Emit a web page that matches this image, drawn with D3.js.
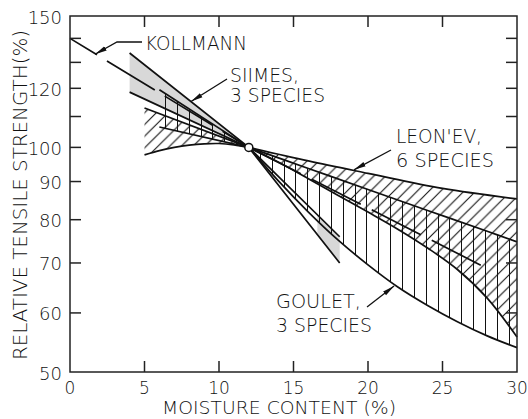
<!DOCTYPE html>
<html><head><meta charset="utf-8">
<script src="https://cdn.jsdelivr.net/npm/d3@7"></script>
<style>
body{margin:0;background:#fff}
svg{display:block}
text{font-family:"DejaVu Sans",sans-serif;font-weight:200;fill:#111}
</style>
</head><body><svg id="c" width="528" height="419"></svg>
<script>
// ---- data ----
const xTicks = [0,5,10,15,20,25,30];
const yTickLabels = [50,60,70,80,90,100,120,150];
const yMinorTicks = [110,130,140];
const refPoint = [12,100];

const kollmannLeft  = [[0,140],[12,100]];
const kollmannRight = [[12,100],[27.7,69.3]];

const siimesA = [[4,133.8],[12,100],[18.1,70.0]];
const siimesB = [[4,118.6],[12,100],[18.1,75.9]];

const gouletLeftTop    = [[6.0,119.5],[12,100]];
const gouletLeftBottom = [[6.0,106.5],[12,100]];
const gouletRightTop   = [[12,100],[16,93.7],[20,87.8],[24,82.3],[28,77.2],[30,74.7]];
const gouletRightBottom= [[12,100],[14,90.1],[16,81.9],[18,75.1],[20,69.6],[22,65.0],[24,61.4],[26,58.4],[28,55.9],[30,53.9]];

const leonevLeftTop    = [[5,112.9],[12,100]];
const leonevLeftBottom = [[5,97.7],[6,99.0],[7,100.0],[8,100.7],[9,101.1],[10,101.2],[11,100.8],[12,100]];
const leonevRightTop   = [[12,100],[16,95.9],[20,92.3],[25,88.1],[30,85.3]];
const leonevRightBottom= [[12,100],[14,95.5],[16,90.8],[18,86.2],[20,81.9],[22,77.7],[24,73.3],[26,68.6],[28,62.8],[30,55.7]];

// ---- setup ----
const svg = d3.select('#c');
const x = d3.scaleLinear().domain([0,30]).range([70,517]);
const y = d3.scaleLog().domain([50,150]).range([372,16]);

const lineStraight = d3.line().x(d=>x(d[0])).y(d=>y(d[1]));
const lineCurve = d3.line().x(d=>x(d[0])).y(d=>y(d[1])).curve(d3.curveCatmullRom.alpha(0.5));

const defs = svg.append('defs');
// diagonal hatch "/"
const dw = 11.7;
const dp = defs.append('pattern').attr('id','dh').attr('patternUnits','userSpaceOnUse')
  .attr('width',dw).attr('height',dw);
dp.append('path').attr('d',`M0,${dw}L${dw},0M-2,2L2,-2M${dw-2},${dw+2}L${dw+2},${dw-2}`)
  .attr('stroke','#111').attr('stroke-width',1.1);
// clip for the visible part of the right-side gray wedge
defs.append('clipPath').attr('id','grayR').append('rect')
  .attr('x',x(16.6)).attr('y',0).attr('width',x(18.1)-x(16.6)+1).attr('height',419);

function regionPath(top, bottom, gen){
  const t = gen(top);
  const b = gen(bottom.slice().reverse());
  return t + 'L' + b.slice(1) + 'Z';
}

// gray Siimes wedges
svg.append('path').attr('d', regionPath(siimesA.slice(0,2), siimesB.slice(0,2), lineStraight))
  .attr('fill','#d8d8d8');
svg.append('path').attr('d', regionPath(siimesB.slice(1), siimesA.slice(1), lineStraight))
  .attr('fill','#d8d8d8').attr('clip-path','url(#grayR)');

// vertical hatching (Goulet) as clipped vertical rules
const hatchXs = d3.range(6.38, 30, 0.795);
function vHatch(id, path){
  defs.append('clipPath').attr('id',id).append('path').attr('d',path);
  const gg = svg.append('g').attr('clip-path',`url(#${id})`);
  hatchXs.forEach(v=>{
    const px = Math.round(x(v))+0.5;
    gg.append('line').attr('x1',px).attr('x2',px).attr('y1',y.range()[1]).attr('y2',y.range()[0])
      .attr('stroke','#111').attr('stroke-width',1);
  });
}
vHatch('gl', regionPath(gouletLeftTop, gouletLeftBottom, lineStraight));
vHatch('gr', regionPath(gouletRightTop, gouletRightBottom, lineCurve));

// diagonal hatching (Leon'ev)
svg.append('path').attr('d', regionPath(leonevLeftTop, leonevLeftBottom, lineCurve)).attr('fill','url(#dh)');
svg.append('path').attr('d', regionPath(leonevRightTop, leonevRightBottom, lineCurve)).attr('fill','url(#dh)');

// lines
const strokeW = 1.7;
const curves = [
  [siimesA, lineStraight],[siimesB, lineStraight],
  [gouletLeftTop, lineStraight],[gouletLeftBottom, lineStraight],
  [gouletRightTop, lineCurve],[gouletRightBottom, lineCurve],
  [leonevLeftTop, lineStraight],[leonevLeftBottom, lineCurve],
  [leonevRightTop, lineCurve],[leonevRightBottom, lineCurve]
];
curves.forEach(([d,g])=>{
  svg.append('path').attr('d', g(d)).attr('fill','none').attr('stroke','#111').attr('stroke-width',strokeW);
});
svg.append('path').attr('d', lineStraight(kollmannLeft)).attr('fill','none').attr('stroke','#111')
  .attr('stroke-width',strokeW).attr('stroke-dasharray','56,11.7').attr('stroke-dashoffset',24.4);
svg.append('path').attr('d', lineStraight(kollmannRight)).attr('fill','none').attr('stroke','#111')
  .attr('stroke-width',strokeW).attr('stroke-dasharray','55,12.3').attr('stroke-dashoffset',64);

// frame
const [x0,x1] = x.range(), [yb,yt] = y.range();
svg.append('rect').attr('x',x0).attr('y',yt).attr('width',x1-x0).attr('height',yb-yt)
  .attr('fill','none').attr('stroke','#222').attr('stroke-width',1.5);
const tl = 11;
const g = svg.append('g').attr('stroke','#222').attr('stroke-width',1.5);
xTicks.slice(1,-1).forEach(v=>{
  g.append('line').attr('x1',x(v)).attr('x2',x(v)).attr('y1',yb).attr('y2',yb-tl);
  g.append('line').attr('x1',x(v)).attr('x2',x(v)).attr('y1',yt).attr('y2',yt+tl);
});
yTickLabels.slice(1,-1).concat(yMinorTicks).forEach(v=>{
  g.append('line').attr('x1',x0).attr('x2',x0+tl).attr('y1',y(v)).attr('y2',y(v));
  g.append('line').attr('x1',x1).attr('x2',x1-tl).attr('y1',y(v)).attr('y2',y(v));
});

// tick labels
xTicks.forEach(v=>{
  svg.append('text').attr('x',x(v)).attr('y',394).attr('text-anchor','middle')
    .attr('font-size',17).text(v);
});
yTickLabels.forEach(v=>{
  svg.append('text').attr('x',62).attr('y',y(v)+7.5).attr('text-anchor','end')
    .attr('font-size',18).text(v);
});

// axis titles
svg.append('text').attr('x',162).attr('y',414).attr('font-size',18)
  .attr('textLength',234).attr('lengthAdjust','spacingAndGlyphs').text('MOISTURE CONTENT (%)');
svg.append('text').attr('transform','translate(27,360) rotate(-90)').attr('font-size',19)
  .attr('textLength',330).attr('lengthAdjust','spacingAndGlyphs').text('RELATIVE TENSILE STRENGTH(%)');

// reference point
svg.append('circle').attr('cx',x(refPoint[0])).attr('cy',y(refPoint[1])).attr('r',4)
  .attr('fill','#fff').attr('stroke','#111').attr('stroke-width',1.5);

// annotations
defs.append('marker').attr('id','ah').attr('viewBox','0 0 12 6').attr('refX',12).attr('refY',3)
  .attr('markerWidth',12).attr('markerHeight',6).attr('markerUnits','userSpaceOnUse').attr('orient','auto')
  .append('path').attr('d','M0,0.6L12,3L0,5.4Z').attr('fill','#111');

function label(lines, lx, ly, lh, widths){
  lines.forEach((t,i)=>{
    svg.append('text').attr('x',lx).attr('y',ly+i*lh).attr('font-size',19)
      .attr('textLength',widths[i]).attr('lengthAdjust','spacingAndGlyphs').text(t);
  });
}
function leader(pts, tip){
  const all = pts.concat([[x(tip[0]),y(tip[1])]]);
  svg.append('path').attr('d', d3.line()(all)).attr('fill','none').attr('stroke','#111')
    .attr('stroke-width',1.3).attr('marker-end','url(#ah)');
}
label(['KOLLMANN'],145,50,0,[102]);
leader([[142,42],[117,42]],[1.68,133.3]);
label(['SIIMES,','3 SPECIES'],230,82,20,[69,95]);
leader([[227,79]],[8.12,115.2]);
label(["LEON'EV,",'6 SPECIES'],396,143,24,[86,98]);
leader([[391,150]],[19.06,93.3]);
label(['GOULET,','3 SPECIES'],276,308,24,[85,96]);
leader([[367,307]],[21.75,65.2]);
</script>
</body></html>
